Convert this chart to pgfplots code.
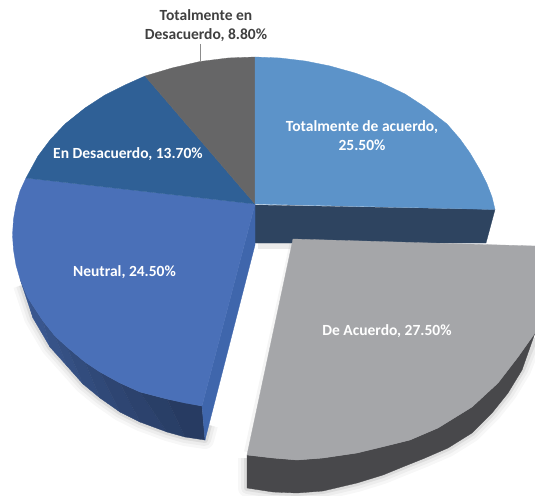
\documentclass[border=0pt]{standalone}
\usepackage{fontspec}
\setmainfont{Carlito}
\usepackage{pgfplots}
\usepackage{pgfplotstable}
\pgfplotsset{compat=1.18}

\definecolor{cTotal}{HTML}{5C93C9}
\definecolor{cTotalSide}{HTML}{2E4460}
\definecolor{cGris}{HTML}{A5A6A9}
\definecolor{cGrisSide}{HTML}{48484B}
\definecolor{cNeutral}{HTML}{4A70B8}
\definecolor{cNeutralIn}{HTML}{3F66AC}
\definecolor{cDesac}{HTML}{2F6096}
\definecolor{cTotDes}{HTML}{666667}
\definecolor{cTexto}{HTML}{404040}

% outlines in image pixels, y downwards
\pgfplotstableread{
x y
255 204
255 57
280 58
305 61
330 66
355 73
380 82
405 94
425 107
447 124
460 139
470 153
480 170
487 184
492 197
495 209.5
}\tblTotal
\pgfplotstableread{
x y
255 205
495 209.5
486 243
255 243
}\tblTotalSide
\pgfplotstableread{
x y
293 239
535 246
535 333
518 357
498 383
472 407
438 428
410 440
390 445
357 453
323 458
297 460
273 458
247 455
}\tblGris
\pgfplotstableread{
x y
247 455
273 458
297 460
323 458
357 453
390 445
410 440
438 428
472 407
498 383
518 357
535 333
522 370
508 393
492 413
472 433
448 448
425 458
405 466
383 475
357 483
323 491
297 493
273 492
247 488
}\tblGrisSide
\pgfplotstableread{
x y
247 458
247 488
273 492
297 493
323 491
357 483
383 475
405 466
425 458
448 448
472 433
492 413
508 393
522 370
535 338
}\tblGrisSombra
\pgfplotstableread{
x y
255 204
26 178
20 191
16 205
13.5 219
12.5 235
13.5 250
16 265
20 279
28 298
43 321
55 336
67 347
85 362
100 372
120 383
140 392
167 399
185 403
202 406
}\tblNeutral
\pgfplotstableread{
x y
255 204
255 245
205 440
202 406
}\tblNeutralIn
\pgfplotstableread{
x y
22 285
33 318
50 347
67 366
83 384
100 398
120 412
140 422
167 432
185 437
205 440
209 425
}\tblNeutralSombra
\pgfplotstableread{
x y
255 204
145 76
125 85
105 95
85 108
65 124
50 140
38 156
26 178
}\tblDesac
\pgfplotstableread{
x y
255 204
255 57
228 58
200 61.5
172 68
145 76
}\tblTotDes
\pgfplotstableread{
x y
258 244
293 244
}\tblTotalSombra
\pgfplotstableread{
x y
293 242
247 452
}\tblGrisBorde

\begin{document}
\begin{tikzpicture}
\begin{axis}[
    scale only axis, width=535pt, height=495pt,
    at={(0pt,0pt)}, anchor=south west,
    xmin=0, xmax=535, ymin=0, ymax=495,
    y dir=reverse,
    hide axis,
    clip=true,
    every axis plot/.append style={no markers, line width=0.3pt},
]
% soft shadows
\addplot[draw=black, opacity=0.03, line width=18pt, line join=round] table {\tblGrisSombra};
\addplot[draw=black, opacity=0.04, line width=12pt, line join=round] table {\tblGrisSombra};
\addplot[draw=black, opacity=0.07, line width=6pt, line join=round] table {\tblGrisSombra};
\addplot[draw=black, opacity=0.03, line width=18pt, line join=round] table {\tblNeutralSombra};
\addplot[draw=black, opacity=0.04, line width=12pt, line join=round] table {\tblNeutralSombra};
\addplot[draw=black, opacity=0.07, line width=6pt, line join=round] table {\tblNeutralSombra};
\addplot[draw=black, opacity=0.08, line width=9pt] table {\tblTotalSombra};
\addplot[draw=black, opacity=0.04, line width=6pt] table {\tblGrisBorde};

% side of the first slice, then the pulled out grey one
\addplot[fill=cTotalSide, draw=cTotalSide] table {\tblTotalSide} -- cycle;
\addplot[fill=cGrisSide, draw=cGrisSide] table {\tblGrisSide} -- cycle;
\addplot[fill=cGris, draw=cGris] table {\tblGris} -- cycle;

% outer side of Neutral, darker to the right
\addplot[fill=cNeutral!80!black, draw=cNeutral!80!black] coordinates {(20,279) (28,298) (33,318)} -- cycle;
\addplot[fill=cNeutral!77!black, draw=cNeutral!77!black] coordinates {(28,298) (43,321) (50,347) (33,318)} -- cycle;
\addplot[fill=cNeutral!74!black, draw=cNeutral!74!black] coordinates {(43,321) (55,336) (67,366) (50,347)} -- cycle;
\addplot[fill=cNeutral!71!black, draw=cNeutral!71!black] coordinates {(55,336) (67,347) (83,384) (67,366)} -- cycle;
\addplot[fill=cNeutral!68!black, draw=cNeutral!68!black] coordinates {(67,347) (85,362) (100,398) (83,384)} -- cycle;
\addplot[fill=cNeutral!65!black, draw=cNeutral!65!black] coordinates {(85,362) (100,372) (120,412) (100,398)} -- cycle;
\addplot[fill=cNeutral!62!black, draw=cNeutral!62!black] coordinates {(100,372) (120,383) (140,422) (120,412)} -- cycle;
\addplot[fill=cNeutral!59!black, draw=cNeutral!59!black] coordinates {(120,383) (140,392) (167,432) (140,422)} -- cycle;
\addplot[fill=cNeutral!56!black, draw=cNeutral!56!black] coordinates {(140,392) (167,399) (185,437) (167,432)} -- cycle;
\addplot[fill=cNeutral!53!black, draw=cNeutral!53!black] coordinates {(167,399) (202,406) (205,440) (185,437)} -- cycle;
\addplot[fill=cNeutralIn, draw=cNeutralIn] table {\tblNeutralIn} -- cycle;

% top faces
\addplot[fill=cNeutral, draw=cNeutral] table {\tblNeutral} -- cycle;
\addplot[fill=cDesac, draw=cDesac] table {\tblDesac} -- cycle;
\addplot[fill=cTotDes, draw=cTotDes] table {\tblTotDes} -- cycle;
\addplot[fill=cTotal, draw=cTotal] table {\tblTotal} -- cycle;

% leader line
\addplot[draw=black!45, line width=0.6pt] coordinates {(200,44) (200,62)};

\tikzset{lab/.style={font=\fontsize{15.5}{19}\selectfont\bfseries, align=center, text=white, inner sep=0pt}}
\node[lab] at (axis cs:362,136) {Totalmente de acuerdo,\\25.50\%};
\node[lab] at (axis cs:128,154) {En Desacuerdo, 13.70\%};
\node[lab] at (axis cs:124.5,272) {Neutral, 24.50\%};
\node[lab] at (axis cs:387,331) {De Acuerdo, 27.50\%};
\node[lab, text=cTexto] at (axis cs:206,25.5) {Totalmente en\\Desacuerdo, 8.80\%};
\end{axis}
\pgfresetboundingbox
\path[use as bounding box] (0pt,0pt) rectangle (535pt,495pt);
\end{tikzpicture}
\end{document}
